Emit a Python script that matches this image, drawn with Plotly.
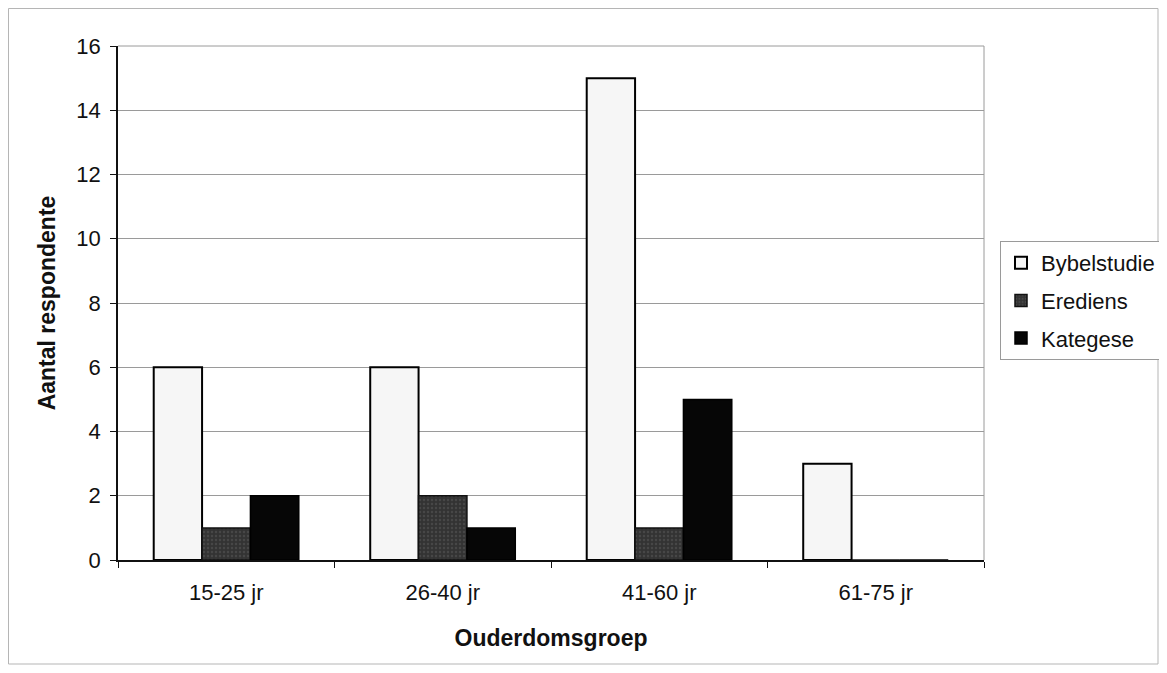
import plotly.graph_objects as go

categories = ["15-25 jr", "26-40 jr", "41-60 jr", "61-75 jr"]
bybelstudie = [6, 6, 15, 3]
erediens = [1, 2, 1, 0]
kategese = [2, 1, 5, 0]
y_ticks = [0, 2, 4, 6, 8, 10, 12, 14, 16]

FONT = "Arial, Liberation Sans, Helvetica, sans-serif"

fig = go.Figure()
fig.add_trace(go.Bar(name="Bybelstudie", x=categories, y=bybelstudie,
                     marker=dict(color="#f6f6f6", line=dict(color="#000000", width=2)),
                     legendgroup="a"))
fig.add_trace(go.Bar(name="Erediens", x=categories, y=erediens,
                     marker=dict(color="#3a3a3a", line=dict(color="#111111", width=1.5),
                                 pattern=dict(shape=".", fgcolor="#5a5a5a", bgcolor="#333333",
                                              size=4, solidity=0.3)),
                     legendgroup="b"))
fig.add_trace(go.Bar(name="Kategese", x=categories, y=kategese,
                     marker=dict(color="#060606", line=dict(color="#000000", width=1.5)),
                     legendgroup="c"))

# page body has an 8px margin; work in page coordinates
OFF = 8
W, H = 1151, 657
L, R, T, B = 118 - OFF, 984 - OFF, 46 - OFF, 560 - OFF
pw, ph = R - L, B - T

def px(x):
    return (x - OFF - L) / pw

def py(y):
    return (B - (y - OFF)) / ph

fig.update_layout(
    width=W, height=H,
    margin=dict(l=L, r=W - R, t=T, b=H - B, pad=0, autoexpand=False),
    barmode="group", bargap=0.33, bargroupgap=0,
    paper_bgcolor="white", plot_bgcolor="white",
    font=dict(family=FONT, size=22, color="#111111"),
    showlegend=True,
    legend=dict(x=px(1000), y=py(241), xanchor="left", yanchor="top",
                bgcolor="white", bordercolor="#9a9a9a", borderwidth=1,
                font=dict(size=22, family=FONT, color="#111111"),
                tracegroupgap=6, itemwidth=30),
    xaxis=dict(
        tickvals=categories, ticktext=categories,
        showline=True, linecolor="#111111", linewidth=1.5,
        ticks="outside", tickson="boundaries", ticklen=6, tickcolor="#111111",
        ticklabelstandoff=12,
        showgrid=False, mirror=False,
        title=dict(text="<b>Ouderdomsgroep</b>", font=dict(size=23, family=FONT), standoff=26),
    ),
    yaxis=dict(
        range=[0, 16], tickvals=y_ticks, ticktext=[str(v) for v in y_ticks],
        showline=True, linecolor="#111111", linewidth=1.5,
        ticks="outside", ticklen=6, tickcolor="#111111", ticklabelstandoff=5,
        showgrid=True, gridcolor="#9a9a9a", gridwidth=1,
        zeroline=False,
        title=dict(text="<b>Aantal respondente</b>", font=dict(size=23, family=FONT), standoff=14),
    ),
)

# plot area top/right border (grey)
fig.add_shape(type="line", xref="paper", yref="paper", x0=0, x1=1, y0=1, y1=1,
              line=dict(color="#9a9a9a", width=1))
fig.add_shape(type="line", xref="paper", yref="paper", x0=1, x1=1, y0=0, y1=1,
              line=dict(color="#9a9a9a", width=1))
# outer chart frame
fig.add_shape(type="rect", xref="paper", yref="paper",
              x0=px(8.5), x1=px(1158), y0=py(664), y1=py(8.5),
              line=dict(color="#b5b5b5", width=1), layer="below")

fig.write_html("out.html")
